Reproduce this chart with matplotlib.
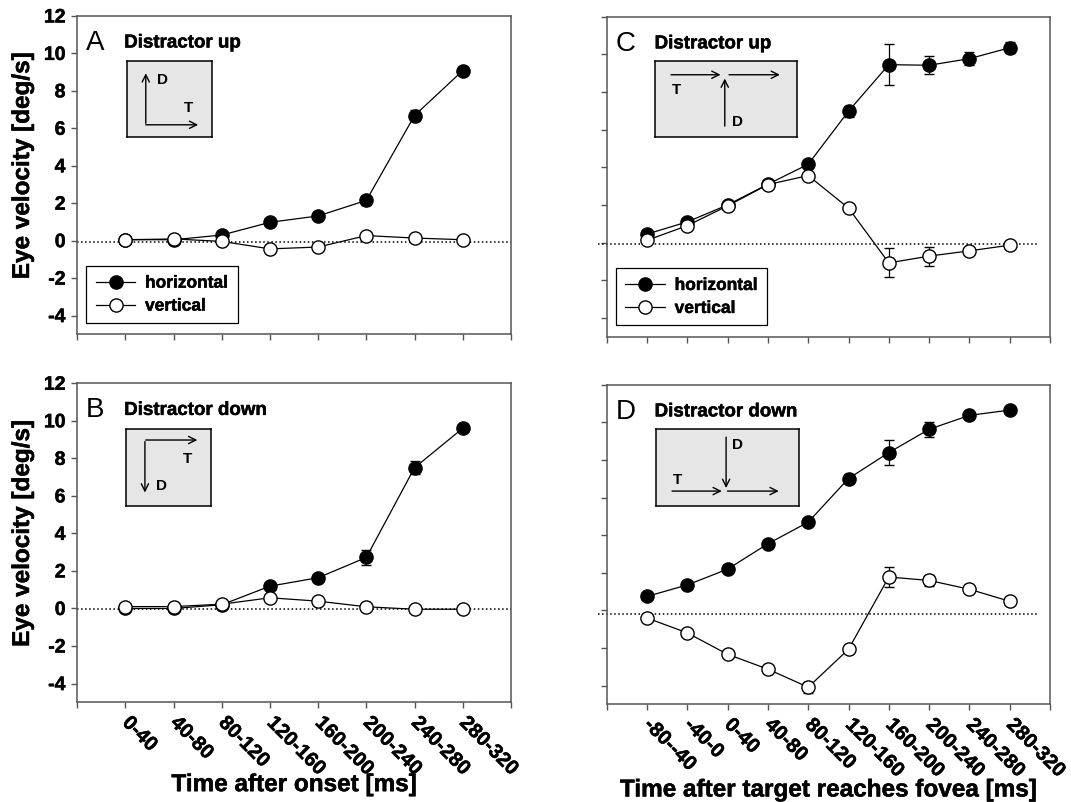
import matplotlib
matplotlib.use('Agg')
import matplotlib.pyplot as plt
import matplotlib.patheffects as pe
from matplotlib.lines import Line2D

plt.rcParams['font.family'] = ['Liberation Sans', 'DejaVu Sans']
plt.rcParams['font.weight'] = 'bold'
plt.rcParams['axes.unicode_minus'] = False

onset_labels = ['0-40', '40-80', '80-120', '120-160', '160-200',
                '200-240', '240-280', '280-320']
fovea_labels = ['-80--40', '-40-0', '0-40', '40-80', '80-120', '120-160',
                '160-200', '200-240', '240-280', '280-320']

# panel A: onset, distractor up
a_horiz = [0.05, 0.05, 0.3, 0.98, 1.32, 2.15, 6.68, 9.08]
a_horiz_err = [0.05, 0.05, 0.1, 0.1, 0.15, 0.25, 0.3, 0.2]
a_vert = [0.05, 0.09, -0.04, -0.44, -0.34, 0.27, 0.14, 0.05]
a_vert_err = [0.05, 0.05, 0.05, 0.1, 0.1, 0.1, 0.1, 0.05]

# panel B: onset, distractor down
b_horiz = [0.0, 0.0, 0.2, 1.19, 1.64, 2.72, 7.5, 9.6]
b_horiz_err = [0.05, 0.05, 0.1, 0.15, 0.15, 0.4, 0.35, 0.2]
b_vert = [0.1, 0.1, 0.23, 0.57, 0.39, 0.09, -0.04, -0.04]
b_vert_err = [0.05, 0.05, 0.05, 0.1, 0.1, 0.05, 0.05, 0.05]

# panel C: fovea, distractor up
c_horiz = [0.45, 1.1, 2.0, 3.1, 4.16, 6.98, 9.45, 9.42, 9.77, 10.35]
c_horiz_err = [0.1, 0.1, 0.1, 0.1, 0.15, 0.3, 1.1, 0.47, 0.35, 0.3]
c_vert = [0.12, 0.9, 1.95, 3.08, 3.56, 1.83, -1.08, -0.72, -0.44, -0.14]
c_vert_err = [0.1, 0.1, 0.1, 0.1, 0.1, 0.1, 0.77, 0.5, 0.15, 0.1]

# panel D: fovea, distractor down
d_horiz = [0.74, 1.35, 2.19, 3.54, 4.69, 7.01, 8.39, 9.63, 10.37, 10.65]
d_horiz_err = [0.1, 0.1, 0.1, 0.1, 0.1, 0.25, 0.67, 0.4, 0.2, 0.15]
d_vert = [-0.41, -1.2, -2.34, -3.13, -4.09, -2.07, 1.77, 1.59, 1.12, 0.48]
d_vert_err = [0.1, 0.1, 0.1, 0.15, 0.3, 0.1, 0.52, 0.3, 0.1, 0.1]

SPINE = '#555555'
MS = 9.5
THICK = [pe.withStroke(linewidth=0.35, foreground='black')]

fig = plt.figure(figsize=(10.71, 8.02), dpi=100)
ax_a = fig.add_axes([0.0722, 0.5832, 0.4048, 0.3969])
ax_b = fig.add_axes([0.0722, 0.1243, 0.4048, 0.3978])
ax_c = fig.add_axes([0.5665, 0.5802, 0.4139, 0.3990])
ax_d = fig.add_axes([0.5665, 0.1218, 0.4139, 0.3985])


def draw_panel(ax, horiz, horiz_err, vert, vert_err, zero_y, zero_x0):
    x = list(range(1, len(horiz) + 1))
    ax.errorbar(x, horiz, yerr=horiz_err, fmt='-o', color='black', lw=0.9,
                ms=MS, mfc='black', mec='black', mew=1, capsize=3.5,
                elinewidth=0.9, capthick=0.9, zorder=3)
    ax.errorbar(x, vert, yerr=vert_err, fmt='-o', color='black', lw=0.9,
                ms=MS, mfc='white', mec='black', mew=1, capsize=3.5,
                elinewidth=0.9, capthick=0.9, zorder=4)
    x1 = 1.0 if zero_x0 == 0 else 0.976
    ax.plot([zero_x0, x1], [zero_y, zero_y],
            transform=ax.get_yaxis_transform(), color='black', ls=':',
            lw=1.1, clip_on=False, zorder=2)
    ax.set_xlim(0, len(horiz) + 1)
    ax.set_ylim(-5, 12)
    ax.set_yticks(range(-4, 13, 2))
    ax.set_xticks(range(0, len(horiz) + 2))
    for s in ax.spines.values():
        s.set_color(SPINE)
        s.set_linewidth(1.1)
    ax.tick_params(direction='out', length=4.5, width=1, color=SPINE,
                   labelsize=14)
    ax.tick_params(axis='y', pad=4)


def inset(ax, rect, arrows, letters):
    box = ax.inset_axes(rect)
    box.set_facecolor('#e6e6e6')
    box.set_xlim(0, 1)
    box.set_ylim(0, 1)
    box.set_xticks([])
    box.set_yticks([])
    for s in box.spines.values():
        s.set_color('black')
        s.set_linewidth(1.1)
    for (x0, y0, x1, y1) in arrows:
        box.annotate('', xy=(x1, y1), xytext=(x0, y0),
                     arrowprops=dict(arrowstyle='->', lw=1, color='black',
                                     shrinkA=0, shrinkB=0, mutation_scale=13))
    for (tx, ty, s) in letters:
        box.text(tx, ty, s, fontsize=11, fontweight='bold', ha='center',
                 va='center')


draw_panel(ax_a, a_horiz, a_horiz_err, a_vert, a_vert_err, -0.05, 0)
draw_panel(ax_b, b_horiz, b_horiz_err, b_vert, b_vert_err, -0.05, 0)
draw_panel(ax_c, c_horiz, c_horiz_err, c_vert, c_vert_err, -0.05, -0.02)
draw_panel(ax_d, d_horiz, d_horiz_err, d_vert, d_vert_err, -0.18, -0.02)

for ax, letter, title in [(ax_a, 'A', 'Distractor up'), (ax_b, 'B', 'Distractor down'),
                          (ax_c, 'C', 'Distractor up'), (ax_d, 'D', 'Distractor down')]:
    ax.text(0.02, 0.915, letter, transform=ax.transAxes, fontsize=20,
            fontweight='normal', va='center', ha='left')
    ax.text(0.108, 0.915, title, transform=ax.transAxes, fontsize=13.5,
            fontweight='bold', va='center', ha='left', path_effects=THICK)

inset(ax_a, [0.115, 0.62, 0.195, 0.238],
      [(0.22, 0.18, 0.22, 0.84), (0.22, 0.16, 0.84, 0.16)],
      [(0.42, 0.75, 'D'), (0.73, 0.38, 'T')])
inset(ax_b, [0.113, 0.614, 0.195, 0.242],
      [(0.23, 0.86, 0.84, 0.86), (0.22, 0.84, 0.22, 0.18)],
      [(0.72, 0.62, 'T'), (0.42, 0.27, 'D')])
inset(ax_c, [0.11, 0.625, 0.319, 0.236],
      [(0.11, 0.82, 0.46, 0.82), (0.52, 0.82, 0.88, 0.82), (0.49, 0.14, 0.49, 0.77)],
      [(0.15, 0.62, 'T'), (0.58, 0.2, 'D')])
inset(ax_d, [0.112, 0.619, 0.321, 0.241],
      [(0.49, 0.9, 0.49, 0.24), (0.11, 0.2, 0.46, 0.2), (0.5, 0.2, 0.86, 0.2)],
      [(0.15, 0.35, 'T'), (0.57, 0.8, 'D')])

handles = [Line2D([], [], color='black', lw=0.9, marker='o', ms=MS,
                  mfc='black', mec='black'),
           Line2D([], [], color='black', lw=0.9, marker='o', ms=MS,
                  mfc='white', mec='black')]
for ax in (ax_a, ax_c):
    leg = ax.legend(handles, ['horizontal', 'vertical'], loc='lower left',
                    bbox_to_anchor=(0.02, 0.035), borderaxespad=0,
                    fancybox=False, edgecolor='black', framealpha=1,
                    handlelength=2.3, handletextpad=0.55,
                    prop={'weight': 'bold', 'size': 12.5},
                    borderpad=0.55, labelspacing=0.45)
    leg.get_frame().set_linewidth(0.9)
    for t in leg.get_texts():
        t.set_path_effects(THICK)
    ax.set_xticklabels([])

ax_c.set_yticklabels([])
ax_d.set_yticklabels([])

for ax, labels in [(ax_b, onset_labels), (ax_d, fovea_labels)]:
    ax.set_xticklabels([''] + labels + [''], rotation=-45, ha='left',
                       va='center', rotation_mode='anchor', fontsize=14.5,
                       fontweight='bold')
    ax.tick_params(axis='x', pad=8)

for ax in (ax_a, ax_b):
    ax.set_ylabel('Eye velocity [deg/s]', fontsize=17.5, fontweight='bold')
    ax.yaxis.set_label_coords(-0.100, 0.53)

ax_b.set_xlabel('Time after onset [ms]', fontsize=17.5, fontweight='bold')
ax_b.xaxis.set_label_coords(0.5, -0.222)
ax_d.set_xlabel('Time after target reaches fovea [ms]', fontsize=17.5,
                fontweight='bold')
ax_d.xaxis.set_label_coords(0.5, -0.232)

for ax in (ax_a, ax_b, ax_c, ax_d):
    for lab in ax.get_xticklabels() + ax.get_yticklabels():
        lab.set_fontweight('bold')
        lab.set_path_effects(THICK)
    ax.xaxis.label.set_path_effects(THICK)
    ax.yaxis.label.set_path_effects(THICK)

fig.savefig('out.png', dpi=100)
